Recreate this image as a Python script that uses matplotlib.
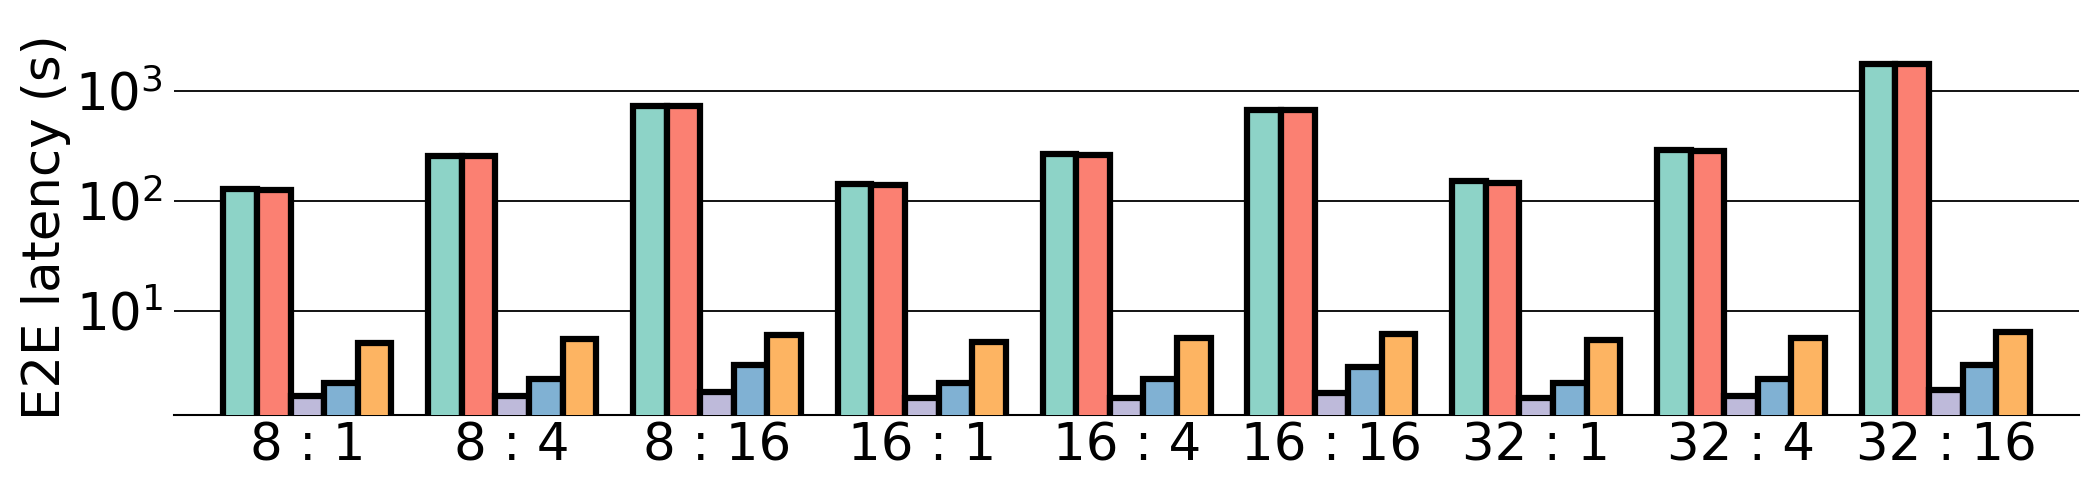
import numpy as np
import matplotlib
matplotlib.use("Agg")
import matplotlib.pyplot as plt

# ratio labels (x axis)
groups = ["8 : 1", "8 : 4", "8 : 16", "16 : 1", "16 : 4", "16 : 16", "32 : 1", "32 : 4", "32 : 16"]

# E2E latency per system
lat_green = [128, 258, 733, 144, 265, 670, 152, 288, 1766]
lat_red = [126, 256, 728, 141, 262, 665, 147, 284, 1760]
lat_purple = [1.69, 1.69, 1.81, 1.6, 1.6, 1.78, 1.6, 1.69, 1.89]
lat_blue = [2.2, 2.4, 3.19, 2.2, 2.4, 3.06, 2.2, 2.4, 3.19]
lat_orange = [5.08, 5.5, 6.05, 5.17, 5.6, 6.14, 5.38, 5.6, 6.36]

series = [lat_green, lat_red, lat_purple, lat_blue, lat_orange]
colors = ["#8dd3c7", "#fb8072", "#bebada", "#80b1d3", "#fdb462"]

fig = plt.figure(figsize=(21, 4.95), dpi=100)
ax = fig.add_axes([0.083, 0.162, 0.907, 0.76])

x = np.arange(len(groups))
w = 0.164
for i, (vals, c) in enumerate(zip(series, colors)):
    ax.bar(x + (i - 2) * w, vals, width=w, color=c, edgecolor="black",
           linewidth=4.5, zorder=3)

ax.set_yscale("log")
ax.set_ylim(1.13, 3000)
ax.set_xlim(-0.65, 8.65)
ax.set_yticks([10, 100, 1000])
ax.yaxis.set_minor_locator(matplotlib.ticker.NullLocator())
ax.set_xticks(x)
ax.set_xticklabels(groups)
ax.tick_params(axis="both", length=0, labelsize=37)
ax.tick_params(axis="y", pad=8)
ax.tick_params(axis="x", pad=5)
ax.yaxis.grid(True, color="black", linewidth=1.3, zorder=0)
ax.set_axisbelow(True)
for s in ["top", "right", "left"]:
    ax.spines[s].set_visible(False)
ax.spines["bottom"].set_linewidth(1.5)
ax.set_ylabel("E2E latency (s)", fontsize=37, labelpad=3)

fig.savefig("out.png", dpi=100)
